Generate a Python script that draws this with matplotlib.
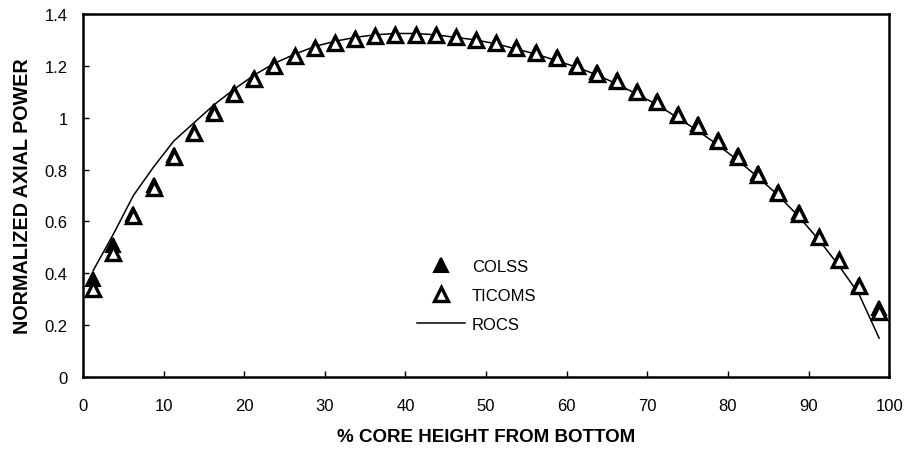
import numpy as np
import matplotlib
matplotlib.use("Agg")
import matplotlib.pyplot as plt

plt.rcParams['font.family'] = ['Liberation Sans', 'DejaVu Sans']

# core height nodes (% from bottom)
height = [1.25, 3.75, 6.25, 8.75, 11.25, 13.75, 16.25, 18.75, 21.25, 23.75,
          26.25, 28.75, 31.25, 33.75, 36.25, 38.75, 41.25, 43.75, 46.25, 48.75,
          51.25, 53.75, 56.25, 58.75, 61.25, 63.75, 66.25, 68.75, 71.25, 73.75,
          76.25, 78.75, 81.25, 83.75, 86.25, 88.75, 91.25, 93.75, 96.25, 98.75]

colss = [0.38, 0.51, 0.63, 0.74, 0.855, 0.945, 1.025, 1.095, 1.155, 1.205,
         1.24, 1.27, 1.29, 1.305, 1.315, 1.32, 1.32, 1.32, 1.31, 1.30,
         1.29, 1.27, 1.255, 1.235, 1.205, 1.175, 1.145, 1.105, 1.065, 1.015,
         0.975, 0.915, 0.855, 0.785, 0.715, 0.635, 0.54, 0.45, 0.355, 0.265]

ticoms = [0.34, 0.48, 0.62, 0.73, 0.85, 0.94, 1.02, 1.09, 1.15, 1.20,
          1.24, 1.27, 1.29, 1.305, 1.315, 1.32, 1.32, 1.32, 1.31, 1.30,
          1.29, 1.27, 1.25, 1.23, 1.20, 1.17, 1.14, 1.10, 1.06, 1.01,
          0.97, 0.91, 0.85, 0.78, 0.71, 0.63, 0.54, 0.45, 0.35, 0.25]

rocs = [0.41, 0.55, 0.70, 0.81, 0.91, 0.98, 1.05, 1.11, 1.165, 1.21,
        1.245, 1.275, 1.295, 1.31, 1.32, 1.325, 1.325, 1.32, 1.31, 1.30,
        1.285, 1.265, 1.245, 1.22, 1.195, 1.165, 1.13, 1.09, 1.05, 1.00,
        0.95, 0.895, 0.835, 0.77, 0.70, 0.62, 0.53, 0.43, 0.32, 0.15]

fig = plt.figure(figsize=(9.12, 4.56), dpi=100)
ax = fig.add_axes([0.091, 0.171, 0.884, 0.796])

ax.plot(height, rocs, color='black', linewidth=1.1, label='ROCS', zorder=2)
ax.plot(height, colss, linestyle='none', marker='^', markersize=10,
        markerfacecolor='black', markeredgecolor='black', markeredgewidth=1.5,
        label='COLSS', zorder=3)
ax.plot(height, ticoms, linestyle='none', marker='^', markersize=10,
        markerfacecolor='white', markeredgecolor='black', markeredgewidth=2.4,
        label='TICOMS', zorder=4)

ax.set_xlim(0, 100)
ax.set_ylim(0, 1.4)
ax.set_xticks(np.arange(0, 101, 10))
ax.set_yticks([0, 0.2, 0.4, 0.6, 0.8, 1.0, 1.2, 1.4])
ax.set_yticklabels(['0', '0.2', '0.4', '0.6', '0.8', '1', '1.2', '1.4'])
ax.tick_params(direction='in', length=4, width=1, labelsize=12)
ax.tick_params(axis='x', pad=15)
ax.tick_params(axis='y', pad=11)
for s in ax.spines.values():
    s.set_linewidth(1.8)

ax.set_xlabel('% CORE HEIGHT FROM BOTTOM', fontsize=13.5, fontweight='bold', labelpad=11)
ax.set_ylabel('NORMALIZED AXIAL POWER', fontsize=14.2, fontweight='bold', labelpad=9)

h, l = ax.get_legend_handles_labels()
order = [1, 2, 0]
ax.legend([h[i] for i in order], [l[i] for i in order], loc='center',
          bbox_to_anchor=(0.488, 0.225), frameon=False, fontsize=12,
          handlelength=2.9, labelspacing=0.85, handletextpad=0.4)

fig.savefig('out.png', dpi=100)
